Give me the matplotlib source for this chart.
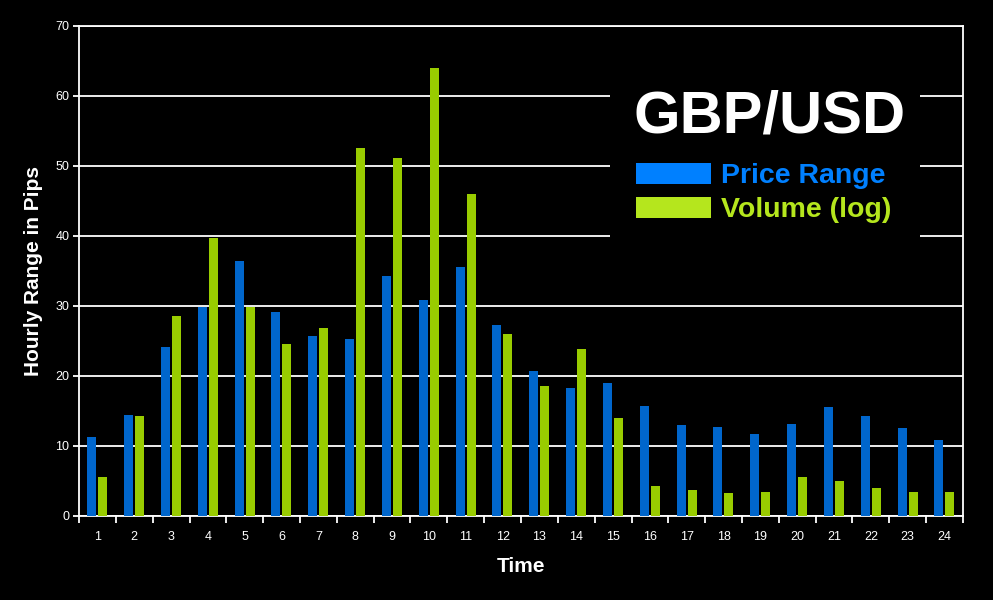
import numpy as np
import matplotlib
matplotlib.use("Agg")
import matplotlib.pyplot as plt
from matplotlib.patches import Patch, Rectangle

plt.rcParams['font.family'] = ['Liberation Sans', 'DejaVu Sans']

hours = list(range(1, 25))
price_range = [11.3, 14.4, 24.1, 29.8, 36.4, 29.1, 25.7, 25.3, 34.3, 30.9, 35.6, 27.3,
               20.7, 18.3, 19.0, 15.7, 13.0, 12.7, 11.7, 13.1, 15.6, 14.3, 12.6, 10.9]
volume_log = [5.6, 14.3, 28.6, 39.7, 29.8, 24.6, 26.9, 52.6, 51.1, 64.0, 46.0, 26.0,
              18.6, 23.9, 14.0, 4.3, 3.7, 3.3, 3.4, 5.6, 5.0, 4.0, 3.4, 3.4]

bar_blue = '#0066CC'
bar_green = '#99CC00'
leg_blue = '#0080FF'
leg_green = '#B5E61D'

fig = plt.figure(figsize=(9.93, 6.0), dpi=100)
fig.patch.set_facecolor('black')
ax = fig.add_axes([79/993, 84/600, (963-79)/993, (516-26)/600])
ax.set_facecolor('black')

x = np.array(hours)
w = 0.245
ax.bar(x - 0.155, price_range, width=w, color=bar_blue, zorder=3)
ax.bar(x + 0.145, volume_log, width=w, color=bar_green, zorder=3)

ax.set_xlim(0.5, 24.5)
ax.set_ylim(0, 70)
ax.set_yticks(range(0, 71, 10))
ax.yaxis.grid(True, color='white', linewidth=1.3)
ax.set_axisbelow(True)

ax.set_xticks(x)
ax.set_xticklabels([str(h) for h in hours])
ax.set_xticks(np.arange(0.5, 25, 1), minor=True)
ax.tick_params(axis='x', which='major', length=0, pad=11, colors='white', labelsize=9)
ax.tick_params(axis='x', which='minor', length=5, width=1.3, color='white')
ax.tick_params(axis='y', length=4, width=1.3, colors='white', labelsize=9, pad=3)

for s in ax.spines.values():
    s.set_color('white')
    s.set_linewidth(1.3)

ax.set_xlabel('Time', color='white', fontsize=15, fontweight='bold', labelpad=10)
ax.set_ylabel('Hourly Range in Pips', color='white', fontsize=15, fontweight='bold', labelpad=9)

# black box behind the title and legend, hiding the gridlines
ax.add_patch(Rectangle((610/993, 1 - 268/600), 310/993, 213/600, transform=fig.transFigure,
                       facecolor='black', edgecolor='none', clip_on=False, zorder=4))
ax.text(634/993, 1 - 132/600, 'GBP/USD', transform=fig.transFigure, color='white',
        fontsize=43, fontweight='bold', ha='left', va='baseline', zorder=6)

handles = [Patch(facecolor=leg_blue, edgecolor='none'), Patch(facecolor=leg_green, edgecolor='none')]
leg = ax.legend(handles, ['Price Range', 'Volume (log)'],
                loc='upper left', bbox_to_anchor=(636/993, 1 - 163/600),
                bbox_transform=fig.transFigure,
                prop={'size': 20.5, 'weight': 'bold'},
                labelcolor=[leg_blue, leg_green],
                handlelength=2.63, handleheight=0.74, handletextpad=0.35,
                labelspacing=0.27, borderpad=0, borderaxespad=0, frameon=False)
leg.set_zorder(6)

fig.savefig('out.png', dpi=100, facecolor='black')
